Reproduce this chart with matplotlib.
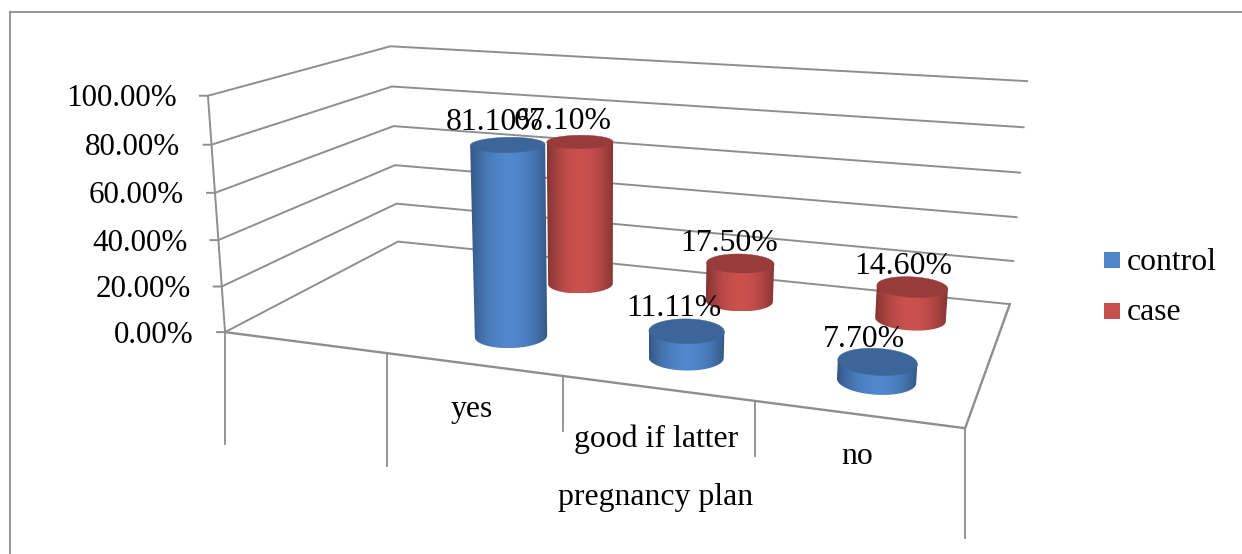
# 3D style cylinder chart of pregnancy plan by group
import numpy as np
import matplotlib
matplotlib.use('Agg')
import matplotlib.pyplot as plt
from matplotlib.patches import Polygon, Rectangle

plt.rcParams['font.family'] = ['Liberation Serif', 'DejaVu Serif']

categories = ['', 'yes', 'good if latter', 'no']
series_names = ['control', 'case']
control_values = [81.10, 11.11, 7.70]
case_values = [67.10, 17.50, 14.60]
value_labels_control = ['81.10%', '11.11%', '7.70%']
value_labels_case = ['67.10%', '17.50%', '14.60%']
y_ticks = [0, 20, 40, 60, 80, 100]

GRAY = '#8e8e8e'
BLUE = np.array([0.31, 0.52, 0.79])
RED = np.array([0.78, 0.31, 0.30])
FONT = 22.9

# box corners (u, v, w) and where they land on the canvas
box_pts = [(0, 0, 0), (1, 0, 0), (0, 1, 0), (1, 1, 0),
           (0, 0, 1), (0, 1, 1), (1, 1, 1), (1, 0, 1)]
canvas_pts = [(225, 332), (965, 428), (398, 242), (1010, 304),
              (208, 94.5), (390.5, 47), (1027, 80), (985, 152)]


def fit_projection(src, dst):
    rows = []
    for (u, v, w), (x, y) in zip(src, dst):
        rows.append([u, v, w, 1, 0, 0, 0, 0, -x*u, -x*v, -x*w, -x])
        rows.append([0, 0, 0, 0, u, v, w, 1, -y*u, -y*v, -y*w, -y])
    vt = np.linalg.svd(np.array(rows, dtype=float))[2]
    return vt[-1].reshape(3, 4)


P = fit_projection(box_pts, canvas_pts)


def project(u, v, w):
    p = P @ np.array([u, v, w, np.ones_like(np.asarray(u, dtype=float))])
    return p[0]/p[2], p[1]/p[2]


fig = plt.figure(figsize=(12.42, 5.54), dpi=100)
ax = fig.add_axes([0, 0, 1, 1])
ax.axis('off')

# outer frame, open on the right
ax.plot([9.5, 9.5], [554, 12], color=GRAY, lw=1.3)
ax.plot([9.5, 1242], [12, 12], color=GRAY, lw=1.3)

# gridlines on the side and back walls, with value ticks
for t in y_ticks:
    w = t/100
    xa, ya = project(0, 0, w)
    xb, yb = project(0, 1, w)
    xc, yc = project(1, 1, w)
    ax.plot([xa - 8, xa, xb, xc], [ya, ya, yb, yc], color=GRAY, lw=1.4, zorder=1)
    ax.text(xa - 31, ya + 3, f'{t:.2f}%', ha='right', va='center', fontsize=22.4, color='black')

xa, ya = project(0, 0, 0)
xb, yb = project(0, 0, 1)
ax.plot([xa, xb], [ya, yb], color=GRAY, lw=1.4, zorder=1)

# floor outline
xs, ys = project(np.array([0, 1, 1]), np.array([0, 0, 1]), np.zeros(3))
ax.plot(xs, ys, color=GRAY, lw=1.7, zorder=1)

# category dividers hanging below the floor
n_cat = len(categories)
drops = [112, 113, 55, 55, 110]
for i in range(n_cat + 1):
    x0, y0 = project(i/n_cat, 0, 0)
    ax.plot([x0, x0], [y0, y0 + drops[i]], color=GRAY, lw=1.3, zorder=1)


def front_arc(xvals, yvals):
    # walk from the left tangent point round the near side to the right one
    n = len(xvals)
    i = np.argmin(xvals)
    j = np.argmax(xvals)
    steps = (j - i) % n
    idx = [(i + k) % n for k in range(steps + 1)]
    return xvals[idx], yvals[idx]


def draw_cylinder(u, v, value, color, ru=0.049, rv=0.10):
    h = value/100
    t = np.linspace(0, 2*np.pi, 240, endpoint=False)
    cu, cv = u + ru*np.cos(t), v + rv*np.sin(t)
    xb, yb = project(cu, cv, np.zeros_like(t))
    xt, yt = project(cu, cv, np.full_like(t, h))

    bx, by = front_arc(xb, yb)
    tx, ty = front_arc(xt, yt)
    side = Polygon(np.column_stack([np.r_[bx, tx[-1], tx[0]], np.r_[by, ty[-1], ty[0]]]),
                   closed=True, transform=ax.transData, fc='none', ec='none')
    ax.add_patch(side)

    # horizontal shading across the side, dark at both edges
    x_lo, x_hi = min(bx.min(), tx.min()), max(bx.max(), tx.max())
    pos = np.linspace(-1, 1, 120)
    shade = 1.02 - 0.36*np.abs(pos)**2.0
    grad = np.clip(color[None, None, :]*shade[None, :, None], 0, 1)
    im = ax.imshow(grad, extent=(x_lo, x_hi, max(by.max(), ty.max()), min(by.min(), ty.min())),
                   aspect='auto', interpolation='bilinear', zorder=3)
    im.set_clip_path(side)

    ax.add_patch(Polygon(np.column_stack([xt, yt]), closed=True, fc=color*0.76,
                         ec=color*0.76, lw=0.3, zorder=4))


# cylinders, back row first, then front row
row_case = 0.76
row_control = 0.24
for i in range(len(case_values)):
    draw_cylinder((i + 1.5)/n_cat, row_case, case_values[i], RED)
for i in range(len(control_values)):
    draw_cylinder((i + 1.5)/n_cat, row_control, control_values[i], BLUE)

# value labels sit just over each cylinder top
case_label_dx = [-17, -11, -9]
for i in range(len(case_values)):
    cx, cy = project((i + 1.5)/n_cat, row_case, case_values[i]/100)
    ax.text(cx + case_label_dx[i], cy - 20, value_labels_case[i], ha='center', va='center', fontsize=FONT, zorder=6)
for i in range(len(control_values)):
    cx, cy = project((i + 1.5)/n_cat, row_control, control_values[i]/100)
    ax.text(cx - 13, cy - 22, value_labels_control[i], ha='center', va='center', fontsize=FONT, zorder=6)

# category labels and axis title
ax.text(472, 409, categories[1], ha='center', va='center', fontsize=FONT)
ax.text(656, 439, categories[2], ha='center', va='center', fontsize=FONT)
ax.text(857, 456, categories[3], ha='center', va='center', fontsize=FONT)
ax.text(656, 497, 'pregnancy plan', ha='center', va='center', fontsize=FONT)

# legend
for name, col, y in zip(series_names, [BLUE, RED], [260, 311]):
    ax.add_patch(Rectangle((1104, y - 8), 16, 16, fc=col, ec='none'))
    ax.text(1127, y + 2, name, ha='left', va='center', fontsize=FONT)

ax.set_xlim(0, 1242)
ax.set_ylim(554, 0)

fig.savefig('out.png', dpi=100)
